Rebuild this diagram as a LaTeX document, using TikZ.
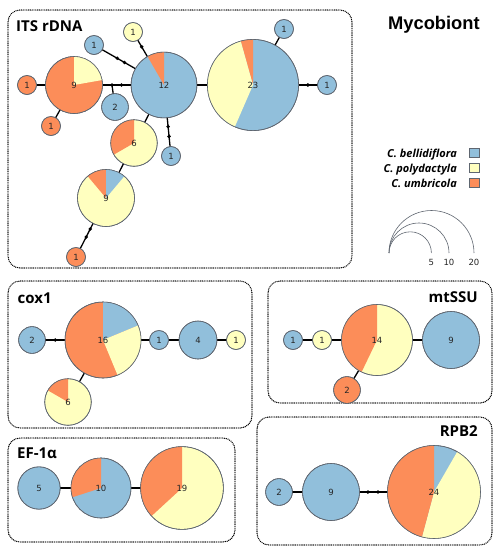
\documentclass[tikz,border=0pt]{standalone}
\usepackage{fontspec}
\setmainfont{DejaVu Sans}
\newfontfamily\titlefont{Open Sans}
\newfontfamily\headfont{Liberation Sans}
\definecolor{cb}{HTML}{91BFDB}
\definecolor{cp}{HTML}{FFFFBF}
\definecolor{cu}{HTML}{FC8D59}
\definecolor{rim}{HTML}{5F6670}
\newcommand{\pieslice}[5]{\fill[#5] (#1.center) -- ++(#3:#2pt) arc[start angle=#3, end angle=#4, radius=#2pt] -- cycle;}
\newcommand{\rimlab}[3]{\draw[rim, line width=0.6pt] (#1.center) circle[radius=#2pt]; \node[numlab] at (#1.center) {#3};}
\tikzset{
 hap/.style={circle, draw=rim, line width=0.6pt, inner sep=0pt, outer sep=0pt},
 numlab/.style={font=\fontsize{8.5}{9}\selectfont, text=black!85, inner sep=0pt},
 link/.style={line width=1.3pt, black},
 mut/.style={circle, fill=black, inner sep=0pt, minimum size=3.8pt},
 panel/.style={dash pattern=on 0pt off 1.8pt, line cap=round, line width=1.4pt, rounded corners=12pt},
 ptitle/.style={font=\titlefont\bfseries\fontsize{15}{17}\selectfont, inner sep=0pt},
 legtext/.style={font=\titlefont\bfseries\itshape\fontsize{11}{13}\selectfont, inner sep=0pt},
 legbox/.style={draw=rim, line width=0.5pt, minimum size=9.5pt, inner sep=0pt},
}
\begin{document}
\begin{tikzpicture}[x=1pt,y=1pt]
\useasboundingbox (0,0) rectangle (496,-550);
% panels
\draw[panel] (8,-10) rectangle (352,-268);
\draw[panel] (8,-281) rectangle (252,-428);
\draw[panel] (268,-281) rectangle (492,-403);
\draw[panel] (8,-438) rectangle (235,-542);
\draw[panel] (257,-417) rectangle (492,-545);
% titles
\node[ptitle, anchor=base west] (tits) at (16,-31.5) {ITS rDNA};
\node[ptitle, anchor=base west] (tcox) at (17.5,-303) {cox1};
\node[ptitle, anchor=base east] (tmt) at (478,-302) {mtSSU};
\node[ptitle, anchor=base west] (tef) at (17,-458) {EF-1α};
\node[ptitle, anchor=base east] (trpb) at (478,-436) {RPB2};
\node[font=\headfont\bfseries\fontsize{18.3}{20}\selectfont, anchor=base west, inner sep=0pt] (tmyc) at (388,-29.5) {Mycobiont};
% legend
\node[legtext, anchor=base east] (l1) at (457,-157) {C. bellidiflora};
\node[legtext, anchor=base east] (l2) at (457,-172) {C. polydactyla};
\node[legtext, anchor=base east] (l3) at (457,-187) {C. umbricola};
\node[legbox, fill=cb] (s1) at (474,-152.5) {};
\node[legbox, fill=cp] (s2) at (474,-167.5) {};
\node[legbox, fill=cu] (s3) at (474,-182.5) {};
% scale
\coordinate (sc) at (389,-253);
\draw[rim, line width=0.6pt] (sc) arc[start angle=180, end angle=0, radius=21.2pt];
\draw[rim, line width=0.6pt] (sc) arc[start angle=180, end angle=0, radius=30pt];
\draw[rim, line width=0.6pt] (sc) arc[start angle=180, end angle=0, radius=42.5pt];
\node[numlab] (k5) at (431.4,-262) {5};
\node[numlab] (k10) at (449,-262) {10};
\node[numlab] (k20) at (474,-262) {20};

% ---------- ITS rDNA ----------
\node[hap, fill=cu, minimum size=57pt] (i9a) at (74,-85) {};
\node[hap, fill=cu, minimum size=19pt] (i1a) at (27,-85) {};
\node[hap, fill=cu, minimum size=19pt] (i1b) at (51,-126) {};
\node[hap, fill=cb, minimum size=26.8pt] (i2) at (115,-107) {};
\node[hap, fill=cb, minimum size=65.8pt] (i12) at (164,-85) {};
\node[hap, fill=cb, minimum size=19pt] (i1c) at (94,-45) {};
\node[hap, fill=cp, minimum size=19pt] (i1d) at (133,-32) {};
\node[hap, fill=cp, minimum size=46.6pt] (i6) at (134,-143) {};
\node[hap, fill=cb, minimum size=19pt] (i1e) at (171,-156) {};
\node[hap, fill=cp, minimum size=57pt] (i9b) at (106,-198) {};
\node[hap, fill=cu, minimum size=19pt] (i1f) at (76,-257) {};
\node[hap, fill=cb, minimum size=91.2pt] (i23) at (253,-85) {};
\node[hap, fill=cb, minimum size=19pt] (i1g) at (284,-29) {};
\node[hap, fill=cb, minimum size=19pt] (i1h) at (327,-85) {};
\coordinate (j1) at (112,-85);
\draw[link] (i1a) -- (i9a);
\draw[link] (i1b) -- (i9a);
\draw[link] (i9a) -- (j1) -- (i12) node[mut, pos=0.5] {};
\node[mut] at (j1) {};
\draw[link] (j1) -- (i2);
\draw[link] (i1c) -- (i12) node[mut, pos=0.45] {} node[mut, pos=0.67] {};
\draw[link] (i1d) -- (i12) node[mut, pos=0.4] {};
\draw[link] (i12) -- (i1e) node[mut, pos=0.31] {} node[mut, pos=0.65] {};
\draw[link] (i12) -- (i6);
\draw[link] (i6) -- (i9b);
\draw[link] (i9b) -- (i1f) node[mut, pos=0.22] {} node[mut, pos=0.54] {};
\draw[link] (i12) -- (i23);
\draw[link] (i23) -- (i1g);
\draw[link] (i23) -- (i1h) node[mut, pos=0.49] {};
\pieslice{i9a}{28.5}{10}{90}{cp}
\pieslice{i12}{32.9}{90}{120}{cu}
\pieslice{i6}{23.3}{90}{210}{cu}
\pieslice{i9b}{28.5}{90}{130}{cu}
\pieslice{i9b}{28.5}{50}{90}{cb}
\pieslice{i23}{45.6}{90}{105.65}{cu}
\pieslice{i23}{45.6}{105.65}{246.5}{cp}
\rimlab{i9a}{28.5}{9}
\rimlab{i1a}{9.5}{1}
\rimlab{i1b}{9.5}{1}
\rimlab{i2}{13.4}{2}
\rimlab{i12}{32.9}{12}
\rimlab{i1c}{9.5}{1}
\rimlab{i1d}{9.5}{1}
\rimlab{i6}{23.3}{6}
\rimlab{i1e}{9.5}{1}
\rimlab{i9b}{28.5}{9}
\rimlab{i1f}{9.5}{1}
\rimlab{i23}{45.6}{23}
\rimlab{i1g}{9.5}{1}
\rimlab{i1h}{9.5}{1}

% ---------- cox1 ----------
\node[hap, fill=cb, minimum size=26.8pt] (c2) at (32,-340) {};
\node[hap, fill=cu, minimum size=76pt] (c16) at (103,-340) {};
\node[hap, fill=cb, minimum size=19pt] (c1a) at (159,-340) {};
\node[hap, fill=cb, minimum size=38pt] (c4) at (198,-340) {};
\node[hap, fill=cp, minimum size=19pt] (c1b) at (236,-340) {};
\node[hap, fill=cp, minimum size=46.6pt] (c6) at (68,-402) {};
\draw[link] (c2) -- (c16) node[mut, pos=0.5] {};
\draw[link] (c16) -- (c1a);
\draw[link] (c1a) -- (c4);
\draw[link] (c4) -- (c1b);
\draw[link] (c16) -- (c6);
\pieslice{c16}{38}{22.5}{90}{cb}
\pieslice{c16}{38}{-67.5}{22.5}{cp}
\pieslice{c6}{23.3}{90}{150}{cu}
\rimlab{c2}{13.4}{2}
\rimlab{c16}{38}{16}
\rimlab{c1a}{9.5}{1}
\rimlab{c4}{19}{4}
\rimlab{c1b}{9.5}{1}
\rimlab{c6}{23.3}{6}

% ---------- mtSSU ----------
\node[hap, fill=cb, minimum size=19pt] (m1a) at (293,-340) {};
\node[hap, fill=cp, minimum size=19pt] (m1b) at (322,-340) {};
\node[hap, fill=cp, minimum size=71pt] (m14) at (377,-340) {};
\node[hap, fill=cb, minimum size=57pt] (m9) at (451,-340) {};
\node[hap, fill=cu, minimum size=26.8pt] (m2) at (347,-390) {};
\draw[link] (m1a) -- (m1b);
\draw[link] (m1b) -- (m14);
\draw[link] (m14) -- (m9);
\draw[link] (m14) -- (m2);
\pieslice{m14}{35.5}{90}{244.3}{cu}
\rimlab{m1a}{9.5}{1}
\rimlab{m1b}{9.5}{1}
\rimlab{m14}{35.5}{14}
\rimlab{m9}{28.5}{9}
\rimlab{m2}{13.4}{2}

% ---------- EF-1alpha ----------
\node[hap, fill=cb, minimum size=42.4pt] (e5) at (39,-488) {};
\node[hap, fill=cb, minimum size=60pt] (e10) at (101,-488) {};
\node[hap, fill=cp, minimum size=82.8pt] (e19) at (182,-488) {};
\draw[link] (e5) -- (e10);
\draw[link] (e10) -- (e19);
\pieslice{e10}{30}{90}{198}{cu}
\pieslice{e19}{41.4}{90}{222.6}{cu}
\rimlab{e5}{21.2}{5}
\rimlab{e10}{30}{10}
\rimlab{e19}{41.4}{19}

% ---------- RPB2 ----------
\node[hap, fill=cb, minimum size=26.8pt] (r2) at (279,-492) {};
\node[hap, fill=cb, minimum size=57pt] (r9) at (331,-492) {};
\node[hap, fill=cb, minimum size=93pt] (r24) at (434,-492) {};
\draw[link] (r2) -- (r9);
\draw[link] (r9) -- (r24) node[mut, pos=0.3] {} node[mut, pos=0.66] {};
\pieslice{r24}{46.5}{-105}{60}{cp}
\pieslice{r24}{46.5}{90}{255}{cu}
\rimlab{r2}{13.4}{2}
\rimlab{r9}{28.5}{9}
\rimlab{r24}{46.5}{24}
\end{tikzpicture}
\end{document}
